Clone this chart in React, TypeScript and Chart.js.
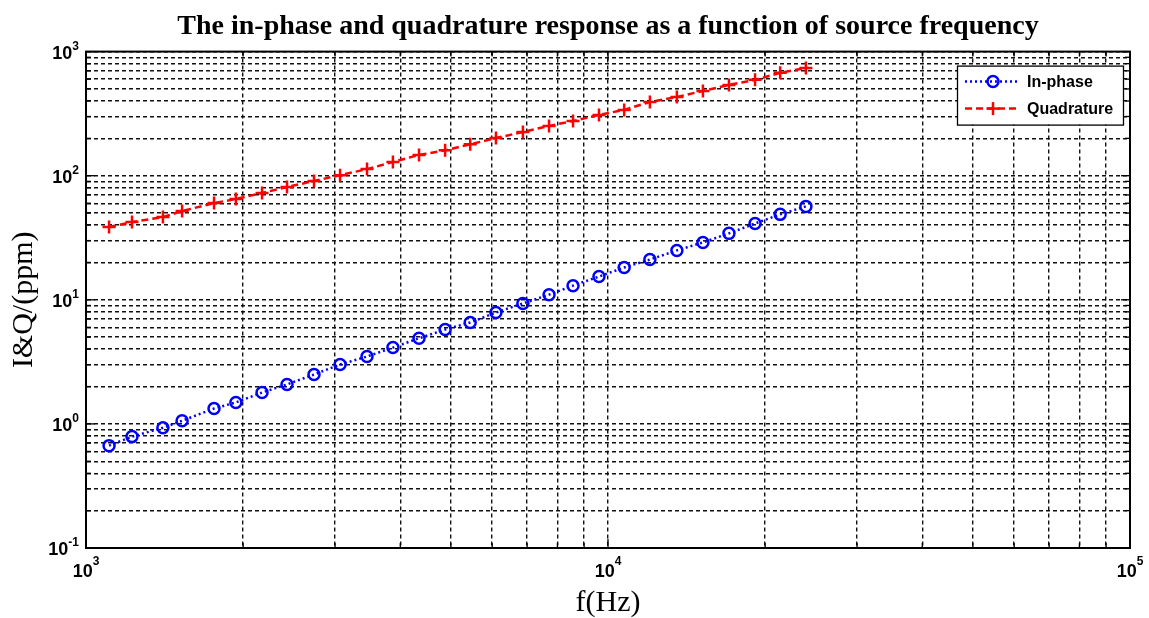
import React, { useEffect, useRef } from 'react';
import { Chart, registerables } from 'chart.js';

Chart.register(...registerables);

// ---- data ----
const frequencies = [1107, 1225, 1404, 1528, 1759, 1937, 2174, 2427, 2734, 3067, 3454, 3872, 4345, 4875, 5445, 6100, 6870, 7710, 8570, 9610, 10740, 12030, 13550, 15200, 17050, 19130, 21370, 23940];
const inPhase = [0.668, 0.79, 0.93, 1.06, 1.33, 1.49, 1.79, 2.08, 2.5, 3.01, 3.49, 4.12, 4.9, 5.76, 6.56, 7.9, 9.34, 11.0, 13.0, 15.4, 18.2, 21.1, 25.0, 29.0, 34.3, 41.2, 48.8, 56.6];
const quadrature = [38.6, 42.3, 46.4, 51.9, 60.2, 64.9, 72.5, 81.1, 90.6, 101, 113, 129, 147, 160, 179, 201, 225, 252, 276, 309, 339, 393, 431, 482, 539, 592, 674, 739];
const seriesLabels = ['In-phase', 'Quadrature'];

const xTickValues = [1e3, 1e4, 1e5];
const xTickExponents = ['3', '4', '5'];
const yTickValues = [0.1, 1, 10, 100, 1000];
const yTickExponents = ['-1', '0', '1', '2', '3'];

const titleText = 'The in-phase and quadrature response as a function of source frequency';
const xTitle = 'f(Hz)';
const yTitle = 'I&Q/(ppm)';

const SERIF = '"Liberation Serif", "Times New Roman", serif';
const SANS = '"Liberation Sans", Arial, sans-serif';

// log grid values (1..9 x each decade) built from the decade ticks
function gridValues(decades: number[]): number[] {
  const out: number[] = [];
  for (let i = 0; i < decades.length; i++) {
    const d = decades[i];
    if (i === decades.length - 1) { out.push(d); break; }
    for (let k = 1; k <= 9; k++) out.push(+(k * d).toPrecision(6));
  }
  return out;
}
const xGrid = gridValues(xTickValues);
const yGrid = gridValues(yTickValues);

const isDecade = (v: number) => Math.abs(Math.log10(v) - Math.round(Math.log10(v))) < 1e-6;

const matlabPlugin = {
  id: 'matlabDecor',
  afterDraw(chart: any) {
    const { ctx, chartArea: a, scales } = chart;
    const xs = scales.x;
    const ys = scales.y;
    ctx.save();
    ctx.setLineDash([]);
    ctx.strokeStyle = '#000';
    ctx.lineWidth = 1.3;
    const line = (x1: number, y1: number, x2: number, y2: number) => {
      ctx.beginPath(); ctx.moveTo(x1, y1); ctx.lineTo(x2, y2); ctx.stroke();
    };
    // inward tick marks
    xGrid.forEach((v) => {
      const px = xs.getPixelForValue(v);
      const len = isDecade(v) ? 9 : 5;
      line(px, a.bottom, px, a.bottom - len);
      line(px, a.top, px, a.top + len);
    });
    yGrid.forEach((v) => {
      const py = ys.getPixelForValue(v);
      const len = isDecade(v) ? 9 : 5;
      line(a.left, py, a.left + len, py);
      line(a.right, py, a.right - len, py);
    });
    // box
    ctx.lineWidth = 2;
    ctx.strokeRect(a.left, a.top, a.right - a.left, a.bottom - a.top);

    // tick labels with superscripts
    ctx.fillStyle = '#000';
    ctx.textBaseline = 'alphabetic';
    ctx.textAlign = 'left';
    const mainFont = `bold 18px ${SANS}`;
    const supFont = `bold 12px ${SANS}`;
    yTickValues.forEach((v, i) => {
      const py = ys.getPixelForValue(v);
      ctx.font = mainFont; const w1 = ctx.measureText('10').width;
      ctx.font = supFont; const w2 = ctx.measureText(yTickExponents[i]).width;
      const x0 = a.left - 7 - w1 - w2;
      ctx.font = mainFont; ctx.fillText('10', x0, py + 7);
      ctx.font = supFont; ctx.fillText(yTickExponents[i], x0 + w1, py - 2);
    });
    xTickValues.forEach((v, i) => {
      const px = xs.getPixelForValue(v);
      ctx.font = mainFont; const w1 = ctx.measureText('10').width;
      ctx.font = supFont; const w2 = ctx.measureText(xTickExponents[i]).width;
      const x0 = px - (w1 + w2) / 2;
      ctx.font = mainFont; ctx.fillText('10', x0, a.bottom + 29);
      ctx.font = supFont; ctx.fillText(xTickExponents[i], x0 + w1, a.bottom + 17);
    });

    // legend
    const lw = 166, lh = 59;
    const lx = a.right - 7 - lw, ly = a.top + 14;
    ctx.fillStyle = '#fff';
    ctx.fillRect(lx, ly, lw, lh);
    ctx.strokeStyle = '#000';
    ctx.lineWidth = 1.3;
    ctx.strokeRect(lx + 0.5, ly + 0.5, lw, lh);
    chart.data.datasets.forEach((ds: any, i: number) => {
      const cy = ly + 16 + i * 27;
      ctx.strokeStyle = ds.borderColor;
      ctx.lineWidth = ds.borderWidth;
      ctx.setLineDash(ds.borderDash || []);
      line(lx + 8, cy, lx + 62, cy);
      ctx.setLineDash([]);
      const mx = lx + 36;
      const r = ds.pointRadius;
      ctx.lineWidth = ds.pointBorderWidth;
      ctx.strokeStyle = ds.borderColor;
      if (ds.pointStyle === 'cross') {
        line(mx - r, cy, mx + r, cy);
        line(mx, cy - r, mx, cy + r);
      } else {
        ctx.beginPath(); ctx.arc(mx, cy, r, 0, Math.PI * 2); ctx.stroke();
      }
      ctx.fillStyle = '#000';
      ctx.font = `bold 16px ${SANS}`;
      ctx.textBaseline = 'middle';
      ctx.fillText(ds.label, lx + 70, cy + 1);
    });
    ctx.restore();
  },
};

export default function App() {
  const canvasRef = useRef<HTMLCanvasElement | null>(null);

  useEffect(() => {
    const canvas = canvasRef.current;
    if (!canvas) return;
    const chart = new Chart(canvas, {
      type: 'line',
      data: {
        datasets: [
          {
            label: seriesLabels[0],
            data: frequencies.map((f, i) => ({ x: f, y: inPhase[i] })),
            borderColor: '#0000ff',
            backgroundColor: 'rgba(0,0,0,0)',
            borderWidth: 2.5,
            borderDash: [2, 3],
            pointStyle: 'circle',
            pointRadius: 5.5,
            pointBorderWidth: 2.5,
            pointBackgroundColor: 'rgba(0,0,0,0)',
            pointBorderColor: '#0000ff',
            fill: false,
            tension: 0,
          },
          {
            label: seriesLabels[1],
            data: frequencies.map((f, i) => ({ x: f, y: quadrature[i] })),
            borderColor: '#ff0000',
            backgroundColor: 'rgba(0,0,0,0)',
            borderWidth: 2.5,
            borderDash: [7, 4],
            pointStyle: 'cross',
            pointRadius: 6.5,
            pointBorderWidth: 2.5,
            pointBackgroundColor: 'rgba(0,0,0,0)',
            pointBorderColor: '#ff0000',
            fill: false,
            tension: 0,
          },
        ],
      },
      options: {
        responsive: false,
        animation: false,
        events: [],
        layout: { padding: { top: 0, right: 19, bottom: 0, left: 0 } },
        plugins: {
          legend: { display: false },
          tooltip: { enabled: false },
          title: {
            display: true,
            fullSize: false,
            text: titleText,
            color: '#000',
            font: { family: SERIF, size: 28, weight: 'bold', lineHeight: 1.2 },
            padding: { top: 10, bottom: 8 },
          },
        },
        scales: {
          x: {
            type: 'logarithmic',
            position: 'bottom',
            min: xTickValues[0],
            max: xTickValues[xTickValues.length - 1],
            afterBuildTicks: (s: any) => { s.ticks = xGrid.map((v) => ({ value: v })); },
            afterFit: (s: any) => { s.height = 70; },
            ticks: { display: false, autoSkip: false },
            grid: { color: '#111', lineWidth: 1.4, drawTicks: false },
            border: { display: true, color: '#000', width: 1, dash: [4, 3] },
            title: {
              display: true, text: xTitle, color: '#000',
              font: { family: SERIF, size: 30, weight: 'normal', lineHeight: 1 },
              padding: { top: 0, bottom: 0 },
            },
          },
          y: {
            type: 'logarithmic',
            position: 'left',
            min: yTickValues[0],
            max: yTickValues[yTickValues.length - 1],
            afterBuildTicks: (s: any) => { s.ticks = yGrid.map((v) => ({ value: v })); },
            afterFit: (s: any) => { s.width = 86; },
            ticks: { display: false, autoSkip: false },
            grid: { color: '#111', lineWidth: 1.4, drawTicks: false },
            border: { display: true, color: '#000', width: 1, dash: [4, 3] },
            title: {
              display: true, text: yTitle, color: '#000',
              font: { family: SERIF, size: 30, weight: 'normal', lineHeight: 1.2 },
              padding: { top: 6, bottom: 0 },
            },
          },
        },
      },
      plugins: [matlabPlugin],
    } as any);
    return () => chart.destroy();
  }, []);

  return (
    <div style={{ position: 'absolute', left: 0, top: 0, width: 1149, height: 618, background: '#fff' }}>
      <canvas ref={canvasRef} width={1149} height={618} style={{ display: 'block' }} />
    </div>
  );
}
